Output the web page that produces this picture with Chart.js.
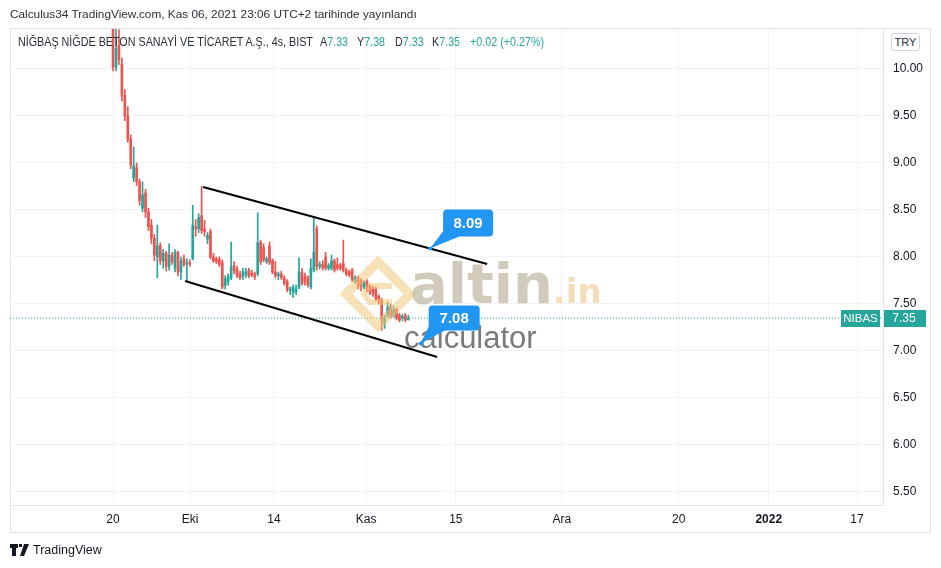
<!DOCTYPE html>
<html>
<head>
<meta charset="utf-8">
<script src="https://cdn.jsdelivr.net/npm/chart.js@4.4.0/dist/chart.umd.min.js"></script>
<style>
body { margin: 0; background: #fff; font-family: "Liberation Sans", Arial, sans-serif; }
#wrap { position: relative; width: 941px; height: 568px; overflow: hidden; }
#frame { position: absolute; left: 10px; top: 28px; width: 919px; height: 503px; border: 1px solid #e0e3eb; }
canvas { position: absolute; left: 0; top: 0; }
.pub { position: absolute; left: 10px; top: 7px; font-size: 11.8px; color: #2a2e39; }
.leg span { position: absolute; top: 35px; font-size: 12.5px; color: #2a2e39; white-space: pre; transform: scaleX(0.86); transform-origin: 0 0; }
.leg b { font-weight: normal; color: #26a69a; }
.try { position: absolute; left: 891px; top: 33px; width: 27px; height: 16px; border: 1px solid #d1d4dc; border-radius: 3px;
       font-size: 11px; line-height: 16px; text-align: center; color: #2a2e39; background: #fff; }
.foot { position: absolute; left: 10px; top: 543px; font-size: 12.5px; color: #131722; }
.foot svg { vertical-align: -2px; margin-right: 4px; }
</style>
</head>
<body>
<div id="wrap">
  <div id="frame"></div>
  <canvas id="chart" width="941" height="568"></canvas>
  <div class="pub">Calculus34 TradingView.com, Kas 06, 2021 23:06 UTC+2 tarihinde yayınlandı</div>
  <div class="leg">
    <span style="left:18px">NİĞBAŞ NİĞDE BETON SANAYİ VE TİCARET A.Ş., 4s, BIST</span>
    <span style="left:320px">A<b>7.33</b></span>
    <span style="left:357px">Y<b>7.38</b></span>
    <span style="left:395px">D<b>7.33</b></span>
    <span style="left:432px">K<b>7.35</b></span>
    <span style="left:470px"><b>+0.02 (+0.27%)</b></span>
  </div>
  <div class="try">TRY</div>
  <div class="foot"><svg width="19" height="12" viewBox="0 0 19 12"><path d="M0 0h8v4H6v8H2V4H0z M9 0h3v3H9z M14 0h5l-5 12h-4z" fill="#131722"/></svg>TradingView</div>
</div>
<script>
// 4h candles, NIBAS / BIST (Sep 20 - Nov 5, 2021)
const opens = [10.60, 10.02, 10.25, 10.05, 9.72, 9.50, 9.25, 8.84, 8.95, 8.80,
  8.52, 8.68, 8.48, 8.34, 8.20, 8.00, 8.12, 7.96, 8.04, 7.90,
  8.02, 7.88, 8.05, 7.84, 7.98, 7.92, 7.94, 7.98, 8.32, 8.30,
  8.44, 8.30, 8.19, 8.27, 8.00, 7.98, 7.97, 7.94, 7.70, 7.74,
  7.78, 7.91, 7.87, 7.82, 7.80, 7.81, 7.86, 7.83, 7.82, 7.82,
  8.16, 8.10, 7.95, 8.12, 7.96, 7.84, 7.80, 7.82, 7.78, 7.74,
  7.64, 7.62, 7.63, 7.68, 7.84, 7.80, 7.78, 7.68, 7.86, 8.30,
  7.90, 7.92, 8.00, 7.88, 7.88, 7.96, 7.92, 7.91, 7.93, 7.86,
  7.84, 7.86, 7.74, 7.79, 7.75, 7.68, 7.74, 7.69, 7.67, 7.66,
  7.58, 7.54, 7.28, 7.38, 7.46, 7.38, 7.44, 7.38, 7.35, 7.38, 7.33];
const highs = [10.85, 10.45, 10.42, 10.12, 9.78, 9.60, 9.30, 9.17, 9.00, 8.83,
  8.80, 8.72, 8.52, 8.40, 8.24, 8.34, 8.15, 8.08, 8.06, 8.14,
  8.05, 8.08, 8.06, 8.00, 8.02, 7.98, 7.97, 8.55, 8.40, 8.46,
  8.75, 8.39, 8.26, 8.30, 8.04, 8.00, 8.00, 7.97, 7.80, 7.82,
  8.16, 7.95, 7.90, 7.85, 7.88, 7.88, 7.88, 7.86, 7.84, 8.47,
  8.18, 8.14, 8.00, 8.16, 7.98, 7.95, 7.84, 7.85, 7.80, 7.76,
  7.68, 7.70, 7.70, 7.99, 7.88, 7.83, 7.80, 7.98, 8.42, 8.33,
  7.95, 7.96, 8.05, 7.93, 8.02, 7.98, 7.99, 7.93, 8.18, 7.88,
  7.86, 7.88, 7.80, 7.80, 7.77, 7.75, 7.76, 7.71, 7.69, 7.68,
  7.60, 7.56, 7.38, 7.52, 7.50, 7.48, 7.46, 7.40, 7.39, 7.40, 7.38];
const lows = [9.98, 9.98, 10.05, 9.66, 9.45, 9.22, 8.94, 8.80, 8.76, 8.55,
  8.48, 8.42, 8.28, 8.14, 7.96, 7.78, 7.92, 7.88, 7.85, 7.86,
  7.92, 7.84, 7.80, 7.76, 7.90, 7.74, 7.90, 7.97, 8.22, 8.26,
  8.25, 8.22, 8.14, 7.98, 7.94, 7.93, 7.90, 7.66, 7.66, 7.70,
  7.76, 7.82, 7.78, 7.76, 7.76, 7.78, 7.78, 7.79, 7.76, 7.80,
  7.92, 7.95, 7.93, 7.92, 7.82, 7.78, 7.76, 7.76, 7.70, 7.63,
  7.60, 7.57, 7.60, 7.66, 7.70, 7.70, 7.68, 7.66, 7.84, 7.86,
  7.87, 7.86, 7.86, 7.86, 7.86, 7.84, 7.86, 7.86, 7.84, 7.80,
  7.79, 7.74, 7.72, 7.66, 7.64, 7.66, 7.63, 7.60, 7.58, 7.53,
  7.50, 7.22, 7.24, 7.36, 7.35, 7.36, 7.33, 7.31, 7.32, 7.31, 7.33];
const closes = [10.02, 10.22, 10.10, 9.72, 9.50, 9.25, 8.98, 8.97, 8.80, 8.60,
  8.66, 8.48, 8.32, 8.20, 8.02, 8.12, 7.96, 8.04, 7.90, 8.02,
  7.95, 8.05, 7.84, 7.96, 7.92, 7.94, 7.93, 8.34, 8.30, 8.42,
  8.28, 8.27, 8.23, 8.00, 7.96, 7.95, 7.92, 7.68, 7.77, 7.79,
  7.90, 7.85, 7.80, 7.78, 7.85, 7.84, 7.80, 7.81, 7.79, 8.15,
  7.95, 7.97, 7.98, 7.94, 7.84, 7.80, 7.82, 7.78, 7.72, 7.65,
  7.66, 7.68, 7.66, 7.84, 7.72, 7.74, 7.70, 7.88, 8.05, 7.90,
  7.92, 7.89, 7.88, 7.91, 7.96, 7.86, 7.88, 7.88, 7.86, 7.82,
  7.81, 7.76, 7.78, 7.68, 7.69, 7.73, 7.65, 7.63, 7.61, 7.55,
  7.53, 7.33, 7.36, 7.46, 7.37, 7.44, 7.35, 7.33, 7.37, 7.33, 7.35];

// time axis: bar-slot positions of the date labels
const timeTickPos = [0, 26.1, 54.5, 85.7, 116.1, 152, 191.6, 222.1, 252];
const timeTickText = ['20', 'Eki', '14', 'Kas', '15', 'Ara', '20', '2022', '17'];
const priceTicks = [5.5, 6, 6.5, 7, 7.5, 8, 8.5, 9, 9.5, 10];

// drawn channel lines [slot, price]
const upperLine = [[30.5, 8.745], [126.7, 7.926]];
const lowerLine = [[24.4, 7.745], [109.8, 6.936]];
const lastPrice = 7.35;
const calloutPts = [[107.4, 8.09], [104.2, 7.08]];
const calloutText = ['8.09', '7.08'];

const xMin = -34.9, xMax = 260.8;
const upColor = '#26a69a', downColor = '#ef5350';
const candleColor = opens.map((o, i) => closes[i] >= o ? upColor : downColor);

const overlay = {
    id: 'overlay',
    afterDraw(chart) {
        const { ctx, chartArea } = chart;
        const x = chart.scales.x, y = chart.scales.y;

        // last price labels
        const py = Math.round(y.getPixelForValue(lastPrice));
        ctx.save();
        ctx.fillStyle = upColor;
        ctx.fillRect(chartArea.right + 1, py - 8, 42, 17);
        ctx.fillRect(chartArea.right - 42, py - 8, 39, 17);
        ctx.fillStyle = '#fff';
        ctx.font = '12px "Liberation Sans", Arial';
        ctx.textAlign = 'center';
        ctx.textBaseline = 'middle';
        ctx.fillText(lastPrice.toFixed(2), chartArea.right + 21, py + 1);
        ctx.font = '11.5px "Liberation Sans", Arial';
        ctx.fillText('NIBAS', chartArea.right - 22.5, py + 1);

        // watermark
        ctx.globalAlpha = 0.55;
        ctx.strokeStyle = '#f0c878';
        ctx.lineWidth = 9;
        ctx.beginPath();
        ctx.moveTo(378, 262); ctx.lineTo(410, 294); ctx.lineTo(378, 326); ctx.lineTo(346, 294); ctx.closePath();
        ctx.stroke();
        ctx.lineWidth = 6;
        ctx.beginPath();
        ctx.moveTo(392, 286); ctx.lineTo(370, 286); ctx.lineTo(364, 294); ctx.lineTo(370, 302); ctx.lineTo(392, 302);
        ctx.stroke();
        ctx.globalAlpha = 0.75;
        ctx.fillStyle = '#c2b9a6';
        ctx.textAlign = 'left';
        ctx.textBaseline = 'alphabetic';
        ctx.font = 'bold 56px "DejaVu Sans", Arial';
        ctx.fillText('altin', 410, 303);
        const w = ctx.measureText('altin').width;
        ctx.fillStyle = '#f0d2a0';
        ctx.font = 'bold 34px "DejaVu Sans", Arial';
        ctx.fillText('.in', 410 + w, 303);
        ctx.globalAlpha = 0.8;
        ctx.fillStyle = '#5a5a5a';
        ctx.font = '31px "Liberation Sans", Arial';
        ctx.fillText('calculator', 404, 348);
        ctx.globalAlpha = 1;

        // callouts
        const boxes = [[13, -39, 50, 27], [8, -38, 51, 25]];
        calloutPts.forEach((p, i) => {
            const ax = x.getPixelForValue(p[0]), ay = y.getPixelForValue(p[1]);
            const [dx, dy, bw, bh] = boxes[i];
            const bx = ax + dx, by = ay + dy;
            ctx.fillStyle = '#2196f3';
            ctx.beginPath();
            ctx.roundRect(bx, by, bw, bh, 4);
            ctx.fill();
            ctx.beginPath();
            ctx.moveTo(bx + 2, by + bh - 8);
            ctx.lineTo(bx + 16, by + bh);
            ctx.lineTo(ax, ay);
            ctx.closePath();
            ctx.fill();
            ctx.beginPath();
            ctx.arc(ax, ay, 2, 0, Math.PI * 2);
            ctx.fill();
            ctx.fillStyle = '#fff';
            ctx.font = 'bold 15px "Liberation Sans", Arial';
            ctx.textAlign = 'center';
            ctx.textBaseline = 'middle';
            ctx.fillText(calloutText[i], bx + bw / 2, by + bh / 2 + 1);
        });
        ctx.restore();
    }
};

new Chart(document.getElementById('chart'), {
    data: {
        datasets: [{
                type: 'bar',
                data: lows.map((l, i) => ({ x: i, y: [l, highs[i]] })),
                backgroundColor: candleColor,
                barThickness: 1,
                grouped: false,
                order: 3
            },
            {
                type: 'bar',
                data: opens.map((o, i) => ({ x: i, y: [o, closes[i]] })),
                backgroundColor: candleColor,
                barThickness: 2,
                minBarLength: 1,
                grouped: false,
                order: 2
            },
            {
                type: 'line',
                data: upperLine.map(p => ({ x: p[0], y: p[1] })),
                borderColor: '#000',
                borderWidth: 2,
                pointRadius: 0,
                order: 1
            },
            {
                type: 'line',
                data: lowerLine.map(p => ({ x: p[0], y: p[1] })),
                borderColor: '#000',
                borderWidth: 2,
                pointRadius: 0,
                order: 1
            },
            {
                type: 'line',
                data: [{ x: xMin, y: lastPrice }, { x: xMax, y: lastPrice }],
                borderColor: upColor,
                borderWidth: 1,
                borderDash: [1, 2],
                pointRadius: 0,
                order: 4
            }
        ]
    },
    options: {
        responsive: false,
        animation: false,
        layout: { padding: { left: 10, top: 29, right: 11, bottom: 36 } },
        plugins: { legend: { display: false }, tooltip: { enabled: false } },
        scales: {
            x: {
                type: 'linear',
                offset: false,
                min: xMin,
                max: xMax,
                afterBuildTicks: s => { s.ticks = timeTickPos.map(v => ({ value: v })); },
                afterFit: s => { s.height = 27; },
                grid: { color: '#f0f3fa', drawTicks: false, offset: false },
                border: { display: true, color: '#e0e3eb' },
                ticks: {
                    padding: 7,
                    maxRotation: 0,
                    color: '#131722',
                    font: c => ({ family: '"Liberation Sans", Arial', size: 12, weight: timeTickText[c.index] === '2022' ? 'bold' : 'normal' }),
                    callback: (v, i) => timeTickText[i]
                }
            },
            y: {
                position: 'right',
                min: 5.3617,
                max: 10.4255,
                afterBuildTicks: s => { s.ticks = priceTicks.map(v => ({ value: v })); },
                afterFit: s => { s.width = 47; },
                grid: { color: '#f0f3fa', drawTicks: false },
                border: { display: true, color: '#e0e3eb' },
                ticks: {
                    padding: 10,
                    color: '#131722',
                    font: { family: '"Liberation Sans", Arial', size: 12 },
                    callback: v => v.toFixed(2)
                }
            }
        }
    },
    plugins: [overlay]
});
</script>
</body>
</html>
